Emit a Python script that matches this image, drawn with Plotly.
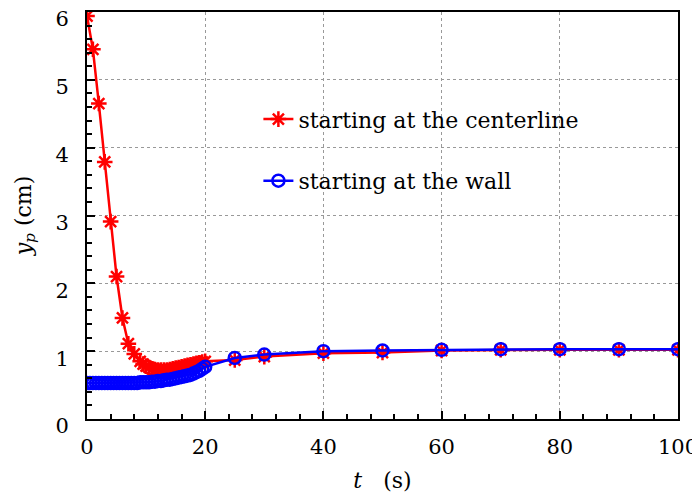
import plotly.graph_objects as go

# particle position y_p (cm) vs time t (s)
t_center = [0, 1, 2, 3, 4, 5, 6, 7, 8, 9, 9.5, 10, 10.5, 11, 11.5, 12, 12.5, 13, 13.5,
            14, 14.5, 15, 15.5, 16, 16.5, 17, 17.5, 18, 18.5, 19, 19.5, 20,
            25, 30, 40, 50, 60, 70, 80, 90, 100]
y_center = [5.94, 5.45, 4.65, 3.79, 2.91, 2.10, 1.49, 1.11, 0.96, 0.85, 0.81, 0.78, 0.76,
            0.74, 0.73, 0.72, 0.72, 0.72, 0.72, 0.73, 0.74, 0.75, 0.76, 0.77, 0.78,
            0.79, 0.80, 0.81, 0.82, 0.83, 0.84, 0.85,
            0.87, 0.92, 0.97, 0.98, 1.01, 1.02, 1.02, 1.02, 1.02]

t_wall = [0, 0.5, 1, 1.5, 2, 2.5, 3, 3.5, 4, 4.5, 5, 5.5, 6, 6.5, 7, 7.5, 8, 8.5, 9, 9.5,
          10, 10.5, 11, 11.5, 12, 12.5, 13, 13.5, 14, 14.5, 15, 15.5, 16, 16.5, 17,
          17.5, 18, 18.5, 19, 19.5, 20,
          25, 30, 40, 50, 60, 70, 80, 90, 100]
y_wall = [0.53, 0.53, 0.53, 0.53, 0.53, 0.53, 0.53, 0.53, 0.53, 0.53, 0.53, 0.53, 0.53,
          0.53, 0.53, 0.53, 0.53, 0.53, 0.54, 0.54, 0.54, 0.54, 0.55, 0.55, 0.56, 0.56,
          0.57, 0.58, 0.58, 0.59, 0.60, 0.61, 0.62, 0.63, 0.64, 0.65, 0.67, 0.69, 0.71,
          0.74, 0.77,
          0.90, 0.95, 1.00, 1.01, 1.02, 1.03, 1.03, 1.03, 1.03]

FONT = "DejaVu Serif"

fig = go.Figure()
fig.add_trace(go.Scatter(
    x=t_center, y=y_center, mode="lines+markers",
    name="starting at the centerline", legendgroup="a",
    line=dict(color="#ff0000", width=2.5),
    marker=dict(symbol="asterisk-open", size=13, line=dict(color="#ff0000", width=2.5)),
))
fig.add_trace(go.Scatter(
    x=t_wall, y=y_wall, mode="lines+markers",
    name="starting at the wall", legendgroup="b",
    line=dict(color="#0000ff", width=2.5),
    marker=dict(symbol="circle-open", size=12, color="#0000ff",
                line=dict(color="#0000ff", width=2.5)),
))

grid = dict(showgrid=True, gridcolor="#999999", griddash="dot", gridwidth=1,
            showline=True, linecolor="black", linewidth=2, mirror=True,
            ticks="inside", ticklen=8, tickcolor="black", tickwidth=1.5,
            zeroline=False, automargin=False, ticklabeloverflow="allow",
            tickfont=dict(family=FONT, size=21, color="black"))

fig.update_xaxes(range=[0, 100], dtick=20, ticklabelstandoff=8,
                 minor=dict(dtick=4, ticks="inside", ticklen=5, tickcolor="black", showgrid=False),
                 title=dict(text="<i>t</i>   (s)", font=dict(family=FONT, size=22, color="black"), standoff=14),
                 **grid)
fig.update_yaxes(range=[0, 6], dtick=1, ticklabelstandoff=12, ticklabelshift=7,
                 minor=dict(dtick=0.2, ticks="inside", ticklen=5, tickcolor="black", showgrid=False),
                 title=dict(text="<i>y</i><sub><i>p</i></sub> (cm)", font=dict(family=FONT, size=22, color="black"), standoff=18),
                 **grid)

# page has an 8px body margin, so the figure is shrunk to fit the 700x498 window
fig.update_layout(
    width=692, height=490,
    margin=dict(l=79, r=22, t=4, b=79),
    plot_bgcolor="white", paper_bgcolor="white",
    font=dict(family=FONT, color="black"),
    legend=dict(x=0.29, y=0.788, xanchor="left", yanchor="top",
                bgcolor="rgba(0,0,0,0)", traceorder="grouped", tracegroupgap=30,
                itemwidth=30, font=dict(family=FONT, size=22, color="black")),
)

fig.write_html("out.html")
